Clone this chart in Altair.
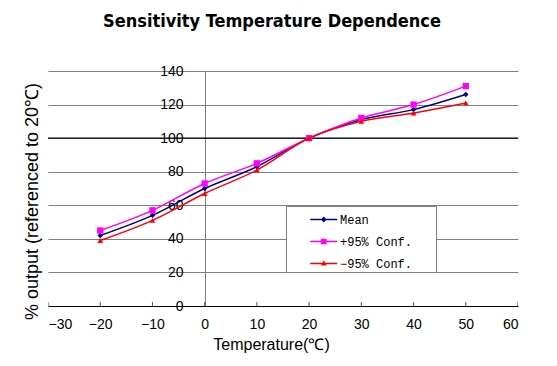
import altair as alt
import pandas as pd

temps = [-20, -10, 0, 10, 20, 30, 40, 50]
mean_vals = [42, 54, 70, 83, 100, 111, 117, 126]
plus_vals = [45, 57, 73, 85, 100, 112, 120, 131]
minus_vals = [39, 51, 67, 81, 100, 110, 115, 121]
series_names = ["Mean", "+95% Conf.", "\u221295% Conf."]
series_colors = ["#000080", "#FF00FF", "#FF0000"]
series_shapes = ["diamond", "square", "triangle-up"]
x_ticks = [-30, -20, -10, 0, 10, 20, 30, 40, 50, 60]
y_ticks = [0, 20, 40, 60, 80, 100, 120, 140]
ref_line = [100]

rows = []
for name, vals in zip(series_names, [mean_vals, plus_vals, minus_vals]):
    for t, v in zip(temps, vals):
        rows.append({"temp": t, "value": v, "series": name})
df = pd.DataFrame(rows)

xscale = alt.Scale(domain=[-30, 60], nice=False, zero=False)
yscale = alt.Scale(domain=[0, 140], nice=False)

base = alt.Chart(df)

# legend symbol paths (filled): thin bar for the line + small marker,
# plus a tiny speck far right that widens the legend frame
speck = " M12,0h0.01v0.01h-0.01Z"
legend_paths = [
    "M0.96,-0.065H3.37V0.065H0.96Z M2.17,-0.26L2.42,0L2.17,0.26L1.92,0Z" + speck,
    "M0.96,-0.065H3.37V0.065H0.96Z M1.92,-0.25H2.42V0.25H1.92Z" + speck,
    "M0.96,-0.065H3.37V0.065H0.96Z M2.17,-0.3L2.43,0.18H1.91Z" + speck,
]

xaxis = alt.Axis(
    values=x_ticks,
    ticks=False,
    grid=False,
    domainColor="#000000",
    domainWidth=1.2,
    labelFont="Liberation Sans",
    labelFontSize=14,
    labelColor="#000000",
    labelPadding=11,
    labelOverlap=False,
    title="Temperature(\u2103)",
    titleFont="Liberation Sans",
    titleFontSize=16,
    titleFontWeight="normal",
    titleColor="#000000",
    titleX=223,
    titleY=38,
    titleBaseline="middle",
)
yaxis = alt.Axis(
    values=y_ticks,
    tickCount=8,
    ticks=False,
    grid=True,
    gridColor="#808080",
    gridWidth=1,
    domainColor="#808080",
    domainWidth=1,
    offset=-157,
    labelFont="Liberation Sans",
    labelFontSize=14,
    labelColor="#000000",
    labelPadding=22,
    labelOverlap=False,
    labelFlush=False,
    title="% output (referenced to 20\u2103)",
    titleFont="Liberation Sans",
    titleFontSize=18,
    titleFontWeight="normal",
    titleColor="#000000",
    titleX=-173,
    titleY=130,
    titleBaseline="middle",
)

X = lambda f: alt.X(f, scale=xscale, axis=xaxis)
Y = lambda f: alt.Y(f, scale=yscale, axis=yaxis)

ref = (
    alt.Chart(pd.DataFrame({"v": ref_line}))
    .mark_rule(color="#000000", strokeWidth=1.2)
    .encode(y=Y("v:Q"))
)

layers = []
for name, color, shape, sz in zip(series_names, series_colors, series_shapes, [30, 40, 32]):
    layers.append(
        base.transform_filter(alt.datum.series == name)
        .mark_line(color=color, strokeWidth=1.5, interpolate="monotone")
        .encode(x=X("temp:Q"), y=Y("value:Q"))
    )
    layers.append(
        base.transform_filter(alt.datum.series == name)
        .mark_point(color=color, shape=shape, filled=True, size=sz, opacity=1)
        .encode(x=X("temp:Q"), y=Y("value:Q"))
    )

ticks = (
    alt.Chart(pd.DataFrame({"t": x_ticks, "y0": [0] * len(x_ticks)}))
    .mark_tick(color="#000000", size=8, thickness=1, orient="vertical", clip=True)
    .encode(x=X("t:Q"), y=Y("y0:Q"))
)

legend_layer = (
    base.transform_filter("datum.temp > 1000")
    .mark_point(filled=True, opacity=1)
    .encode(
        x=X("temp:Q"),
        y=Y("value:Q"),
        color=alt.Color(
            "series:N",
            scale=alt.Scale(domain=series_names, range=series_colors),
            legend=alt.Legend(
                title=None,
                orient="none",
                legendX=238,
                legendY=135,
                padding=2,
                symbolSize=500,
                symbolStrokeWidth=0,
                symbolOpacity=1,
                labelOffset=29,
                labelFont="Liberation Mono",
                labelFontSize=12,
                labelColor="#000000",
                strokeColor="#808080",
                fillColor="#FFFFFF",
                rowPadding=4,
            ),
        ),
        shape=alt.Shape(
            "series:N",
            scale=alt.Scale(domain=series_names, range=legend_paths),
        ),
    )
)

chart = (
    alt.layer(ref, *layers, ticks, legend_layer)
    .properties(
        width=470,
        height=235,
        autosize=alt.AutoSizeParams(type="none"),
        padding={"left": 40, "top": 63, "right": 20, "bottom": 54},
        view=alt.ViewBackground(strokeOpacity=0, strokeWidth=0),
        title=alt.TitleParams(
            "Sensitivity Temperature Dependence",
            font="DejaVu Sans Condensed",
            fontSize=18,
            fontWeight="bold",
            color="#000000",
            anchor="middle",
            dx=-11,
            offset=33,
        ),
    )
    .configure_view(stroke="transparent", strokeWidth=0, strokeOpacity=0)
    .configure(background="#FFFFFF")
)

chart.save("out.html", embed_options={"renderer": "svg", "actions": False})
